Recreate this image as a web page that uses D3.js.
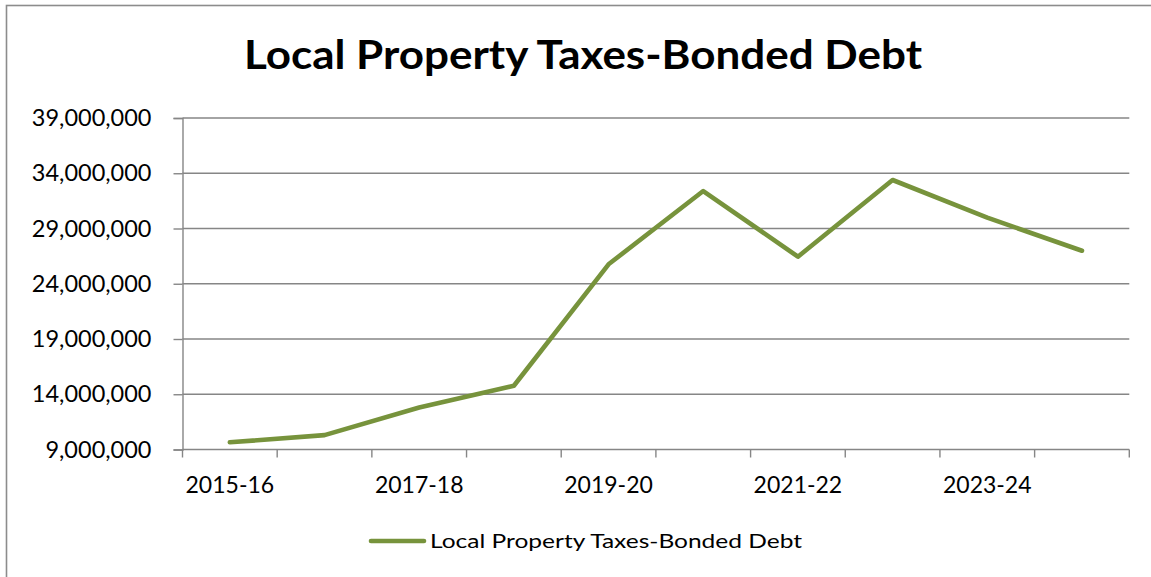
<!DOCTYPE html>
<html>
<head>
<meta charset="utf-8">
<script src="https://cdn.jsdelivr.net/npm/d3@7"></script>
<style>
  html, body { margin: 0; padding: 0; background: #fff; }
  svg { display: block; }
  text { font-family: Lato, "Noto Sans", sans-serif; fill: #000; }
</style>
</head>
<body>
<svg id="chart" width="1151" height="577"></svg>
<script>
// Fiscal years and bonded-debt property tax amounts
const years = ["2015-16", "2016-17", "2017-18", "2018-19", "2019-20",
               "2020-21", "2021-22", "2022-23", "2023-24", "2024-25"];
const bondedDebt = [9650000, 10300000, 12800000, 14770000, 25760000,
                    32390000, 26450000, 33390000, 29980000, 26990000];
const yTicks = [9000000, 14000000, 19000000, 24000000, 29000000, 34000000, 39000000];
const xLabelYears = ["2015-16", "2017-18", "2019-20", "2021-22", "2023-24"];
const seriesName = "Local Property Taxes-Bonded Debt";
const chartTitle = "Local Property Taxes-Bonded Debt";

const svg = d3.select("#chart");
const grey = "#868686";
const green = "#77933C";

// chart frame
svg.append("rect")
  .attr("x", 6.5).attr("y", 5.5)
  .attr("width", 1160).attr("height", 600)
  .attr("fill", "none").attr("stroke", "#8c8c8c").attr("stroke-width", 1.6);

const plotLeft = 182.5, plotRight = 1129.3, plotTop = 118, plotBottom = 449.5;

const x = d3.scaleBand().domain(years).range([plotLeft, plotRight]).paddingInner(0).paddingOuter(0);
const y = d3.scaleLinear().domain([9000000, 39000000]).range([plotBottom, plotTop]);

// title
svg.append("text")
  .attr("x", 583).attr("y", 69)
  .attr("text-anchor", "middle")
  .attr("font-size", 40).attr("font-weight", 700)
  .attr("textLength", 678).attr("lengthAdjust", "spacingAndGlyphs")
  .text(chartTitle);

// horizontal gridlines
svg.append("g").selectAll("line")
  .data(yTicks.slice(1))
  .join("line")
  .attr("x1", plotLeft).attr("x2", plotRight)
  .attr("y1", d => y(d)).attr("y2", d => y(d))
  .attr("stroke", grey).attr("stroke-width", 1.4);

// y axis
const yAxis = svg.append("g")
  .attr("transform", `translate(${plotLeft},0)`)
  .call(d3.axisLeft(y).tickValues(yTicks).tickSize(9).tickPadding(22)
    .tickFormat(d3.format(",")));
yAxis.select(".domain").attr("stroke", grey).attr("stroke-width", 1.4);
yAxis.selectAll(".tick line").attr("stroke", grey).attr("stroke-width", 1.4);
yAxis.selectAll(".tick text")
  .attr("font-size", 23.5).attr("font-family", "Lato, sans-serif").attr("fill", "#000");

// x axis: ticks at category boundaries, labels on every other category
const xAxisG = svg.append("g").attr("transform", `translate(0,${plotBottom})`);
xAxisG.append("line")
  .attr("x1", plotLeft).attr("x2", plotRight)
  .attr("stroke", grey).attr("stroke-width", 1.4);
const boundaries = years.map(d => x(d)).concat([x(years[years.length - 1]) + x.bandwidth()]);
xAxisG.selectAll("line.tk")
  .data(boundaries)
  .join("line").attr("class", "tk")
  .attr("x1", d => d).attr("x2", d => d)
  .attr("y1", 0).attr("y2", 8)
  .attr("stroke", grey).attr("stroke-width", 1.4);
xAxisG.selectAll("text")
  .data(xLabelYears)
  .join("text")
  .attr("x", d => x(d) + x.bandwidth() / 2)
  .attr("y", 43.8)
  .attr("text-anchor", "middle")
  .attr("font-size", 23)
  .text(d => d);

// data line
const line = d3.line()
  .x((d, i) => x(years[i]) + x.bandwidth() / 2)
  .y(d => y(d));
svg.append("path")
  .datum(bondedDebt)
  .attr("d", line)
  .attr("fill", "none")
  .attr("stroke", green)
  .attr("stroke-width", 4.6)
  .attr("stroke-linejoin", "round")
  .attr("stroke-linecap", "round");

// legend
const legend = svg.append("g");
legend.append("line")
  .attr("x1", 371).attr("x2", 424)
  .attr("y1", 541).attr("y2", 541)
  .attr("stroke", green).attr("stroke-width", 4.6)
  .attr("stroke-linecap", "round");
legend.append("text")
  .attr("x", 430).attr("y", 548.3)
  .attr("font-size", 19.5)
  .attr("textLength", 372).attr("lengthAdjust", "spacingAndGlyphs")
  .text(seriesName);
</script>
</body>
</html>
